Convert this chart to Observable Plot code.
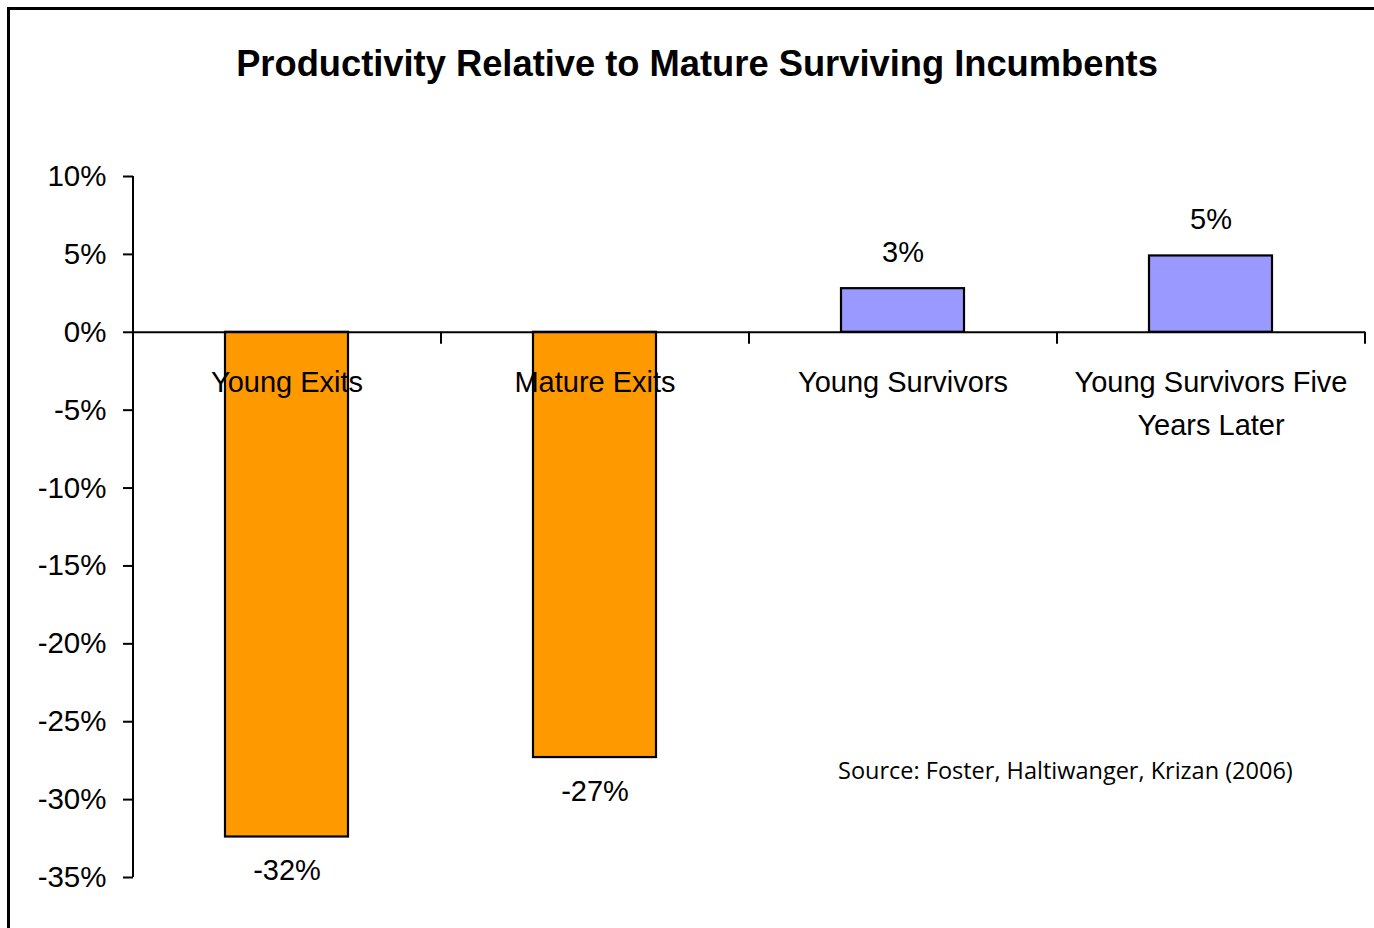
<!DOCTYPE html>
<html>
<head>
<meta charset="utf-8">
<script src="https://cdn.jsdelivr.net/npm/d3@7"></script>
<script src="https://cdn.jsdelivr.net/npm/@observablehq/plot@0.6"></script>
<style>
  html, body { margin: 0; padding: 0; background: #fff; }
  #wrap { position: relative; width: 1374px; height: 928px; overflow: hidden; background: #fff; }
  #frame { position: absolute; left: 7px; top: 7px; width: 1500px; height: 1100px; border: 3px solid #000; box-sizing: border-box; }
  #title { position: absolute; left: 10px; width: 1374px; top: 46px; text-align: center;
           font-family: "Liberation Sans", Arial, sans-serif; font-weight: bold; font-size: 36.3px; line-height: 36px; color: #000; white-space: nowrap; }
  #source { position: absolute; left: 838px; top: 759px; font-family: "Open Sans", Lato, sans-serif; font-size: 23.5px; line-height: 23.5px; color: #000; white-space: nowrap; }
  #chart { position: absolute; left: 0; top: 100px; }
</style>
</head>
<body>
<div id="wrap">
  <div id="frame"></div>
  <div id="title">Productivity Relative to Mature Surviving Incumbents</div>
  <div id="chart"></div>
  <div id="source">Source: Foster, Haltiwanger, Krizan (2006)</div>
</div>
<script>
// ---- data ----
const categories = ["Young Exits", "Mature Exits", "Young Survivors", "Young Survivors Five\nYears Later"];
const values = [-32.4, -27.3, 2.8, 4.9];
const colors = ["#FF9900", "#FF9900", "#9999FF", "#9999FF"];
const yTicks = [10, 5, 0, -5, -10, -15, -20, -25, -30, -35];
const yDomain = [-35, 10];

const data = categories.map((c, i) => ({cat: c, value: values[i], color: colors[i]}));

const W = 1374, H = 828, mL = 133, mR = 9, mT = 76, mB = 51;
const pInner = 0.6, pOuter = 0.3;
const step = (W - mL - mR) / (categories.length - pInner + 2 * pOuter);
const font = "'Liberation Sans', Arial, sans-serif";

const chart = Plot.plot({
  width: W, height: H,
  marginLeft: mL, marginRight: mR, marginTop: mT, marginBottom: mB,
  style: {fontFamily: font, fontSize: "29px", color: "#000", background: "transparent", overflow: "visible"},
  x: {domain: categories, paddingInner: pInner, paddingOuter: pOuter, axis: null},
  y: {domain: yDomain, axis: null},
  marks: [
    Plot.barY(data, {x: "cat", y: "value", fill: "color", stroke: "#000", strokeWidth: 2.2}),
    // y axis line
    Plot.ruleX([categories[0]], {x: d => d, dx: -step / 2, y1: () => yDomain[0], y2: () => yDomain[1], stroke: "#000", strokeWidth: 2}),
    Plot.axisY({ticks: yTicks, tickSize: 10, tickPadding: 17, strokeWidth: 2, fontSize: 29.5, label: null, tickFormat: d => `${d}%`}),
    // zero line
    Plot.ruleY([0], {stroke: "#000", strokeWidth: 2}),
    // category boundary ticks
    Plot.ruleX(categories, {x: d => d, dx: -step / 2, y1: () => 0, y2: () => -0.77, stroke: "#000", strokeWidth: 2}),
    Plot.ruleX([categories[categories.length - 1]], {x: d => d, dx: step / 2, y1: () => 0, y2: () => -0.77, stroke: "#000", strokeWidth: 2}),
    // category labels
    Plot.text(categories, {x: d => d, y: () => 0, text: d => d, lineAnchor: "top", dy: 29, lineHeight: 1.49, fontSize: 29, fill: "#000"}),
    // value labels
    Plot.text(data.filter(d => d.value < 0), {x: "cat", y: "value", text: d => `${Math.round(d.value)}%`, lineAnchor: "middle", dy: 34, fontSize: 29, fill: "#000"}),
    Plot.text(data.filter(d => d.value >= 0), {x: "cat", y: "value", text: d => `${Math.round(d.value)}%`, lineAnchor: "middle", dy: -36, fontSize: 29, fill: "#000"}),
  ]
});

document.getElementById("chart").appendChild(chart);
</script>
</body>
</html>
